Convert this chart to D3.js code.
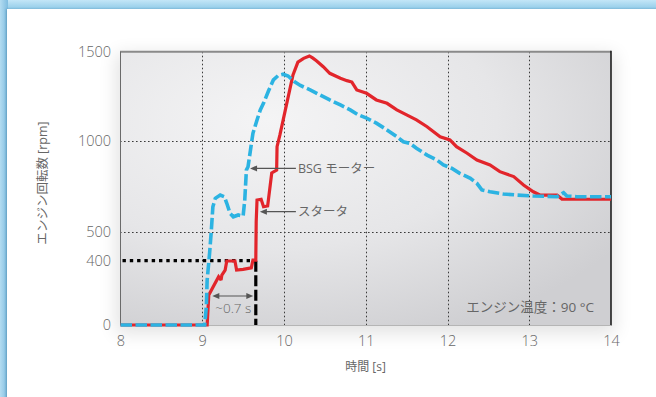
<!DOCTYPE html>
<html>
<head>
<meta charset="utf-8">
<script src="https://cdn.jsdelivr.net/npm/d3@7"></script>
<style>
  html, body { margin: 0; padding: 0; background: #ffffff; }
  svg { display: block; }
</style>
</head>
<body>
<svg id="chart" width="656" height="397"></svg>
<script>
// Engine speed during start-up: conventional starter vs. BSG motor
const timeTicks = [8, 9, 10, 11, 12, 13, 14];
const rpmTicks = [0, 400, 500, 1000, 1500];
const rpmGrid = [500, 1000];

// Starter trace (time s, engine speed rpm)
const starterTime = [8.00, 9.06, 9.08, 9.20, 9.23, 9.24, 9.28, 9.30, 9.40, 9.42, 9.50, 9.60, 9.62, 9.655,
  9.66, 9.67, 9.72, 9.75, 9.80, 9.85, 9.91, 9.915, 9.95, 9.99, 10.03, 10.07, 10.11, 10.17, 10.24, 10.31,
  10.35, 10.40, 10.48, 10.56, 10.69, 10.77, 10.83, 10.89, 11.01, 11.13, 11.26, 11.38, 11.50, 11.62, 11.75,
  11.91, 12.03, 12.11, 12.24, 12.36, 12.52, 12.64, 12.81, 12.93, 13.05, 13.13, 13.34, 13.40, 13.50, 14.00];
const starterRpm = [0, 0, 187, 300, 280, 311, 342, 398, 398, 342, 346, 356, 402, 402,
  558, 677, 681, 640, 644, 825, 841, 969, 1034, 1118, 1202, 1286, 1370, 1442, 1463, 1476,
  1465, 1448, 1416, 1379, 1351, 1338, 1330, 1286, 1267, 1230, 1211, 1174, 1146, 1118, 1080,
  1024, 1006, 969, 933, 896, 869, 832, 805, 759, 722, 704, 704, 682, 681, 681];

// BSG motor trace (time s, engine speed rpm)
const bsgTime = [8.00, 9.03, 9.05, 9.06, 9.09, 9.11, 9.13, 9.16, 9.22, 9.27, 9.30, 9.34, 9.38, 9.44, 9.50,
  9.52, 9.54, 9.56, 9.59, 9.62, 9.67, 9.71, 9.75, 9.81, 9.87, 9.93, 9.99, 10.05, 10.13, 10.20, 10.32,
  10.44, 10.56, 10.69, 10.81, 10.91, 11.01, 11.13, 11.26, 11.38, 11.46, 11.54, 11.62, 11.75, 11.87, 11.95,
  12.05, 12.15, 12.28, 12.36, 12.42, 12.52, 12.68, 12.85, 13.05, 13.34, 13.42, 13.46, 13.58, 14.00];
const bsgRpm = [0, 0, 114, 280, 427, 503, 640, 686, 704, 695, 659, 604, 585, 595, 589,
  677, 841, 859, 951, 1043, 1118, 1174, 1212, 1280, 1342, 1367, 1374, 1364, 1332, 1311, 1286,
  1258, 1230, 1202, 1174, 1146, 1128, 1100, 1062, 1024, 996, 987, 960, 923, 896, 869,
  851, 823, 796, 768, 732, 722, 710, 704, 699, 695, 717, 699, 695, 695];

// Crank reference: 400 rpm reached at ~9.655 s; starter delay marker
const refRpm = 400;
const refTime = 9.655;
const delayStart = 9.08;
const delayLabel = "~0.7 s";

// Callouts: label, arrow tip (time, rpm), label start time
const callouts = [
  { label: "BSG モーター", t: 9.585, rpm: 850, textT: 10.17 },
  { label: "スタータ", t: 9.705, rpm: 613, textT: 10.17 }
];
const noteText = "エンジン温度：90 °C";
const xTitle = "時間 [s]";
const yTitle = "エンジン回転数 [rpm]";

const W = 656, H = 397;
const plot = { left: 120, right: 611, top: 51.7, bottom: 325.5 };
const FONT = "'Open Sans', 'Noto Sans CJK JP', sans-serif";
const TXT = "#666666";

const svg = d3.select("#chart");
const defs = svg.append("defs");

// frame gradients
const gTop = defs.append("linearGradient").attr("id", "frameTop").attr("x1", 0).attr("y1", 0).attr("x2", 0).attr("y2", 1);
gTop.append("stop").attr("offset", "0%").attr("stop-color", "#c3e6f7");
gTop.append("stop").attr("offset", "100%").attr("stop-color", "#8dc9e7");
const gLeft = defs.append("linearGradient").attr("id", "frameLeft").attr("x1", 0).attr("y1", 0).attr("x2", 1).attr("y2", 0);
gLeft.append("stop").attr("offset", "0%").attr("stop-color", "#b3dcf1");
gLeft.append("stop").attr("offset", "100%").attr("stop-color", "#7fbde0");

const cardShadow = defs.append("filter").attr("id", "cardShadow")
  .attr("x", "-5%").attr("y", "-5%").attr("width", "110%").attr("height", "110%");
cardShadow.append("feDropShadow").attr("dx", -1).attr("dy", 0).attr("stdDeviation", 1.2)
  .attr("flood-color", "#2f6f95").attr("flood-opacity", 0.45);

const plotGlow = defs.append("filter").attr("id", "plotGlow")
  .attr("x", "-20%").attr("y", "-20%").attr("width", "140%").attr("height", "140%");
plotGlow.append("feGaussianBlur").attr("stdDeviation", 9);

const plotBg = defs.append("radialGradient").attr("id", "plotBg")
  .attr("cx", "30%").attr("cy", "25%").attr("r", "85%");
plotBg.append("stop").attr("offset", "0%").attr("stop-color", "#f4f4f5");
plotBg.append("stop").attr("offset", "55%").attr("stop-color", "#e6e6e8");
plotBg.append("stop").attr("offset", "100%").attr("stop-color", "#cfcfd2");

// frame and card
svg.append("rect").attr("width", W).attr("height", 10).attr("fill", "url(#frameTop)");
svg.append("rect").attr("width", 8).attr("height", H).attr("fill", "url(#frameLeft)");
svg.append("rect").attr("x", 7).attr("y", 9).attr("width", W).attr("height", H)
  .attr("fill", "#ffffff").attr("filter", "url(#cardShadow)");

// scales
const x = d3.scaleLinear().domain([8, 14]).range([plot.left + 0.5, plot.right]);
const y = d3.scaleLinear().domain(rpmTicks).range([325, 260.7, 232.3, 141, 51.7]);

// plot area
svg.append("rect").attr("x", plot.left - 4).attr("y", plot.top + 2).attr("width", plot.right - plot.left + 8)
  .attr("height", plot.bottom - plot.top + 6).attr("fill", "#000").attr("opacity", 0.11).attr("filter", "url(#plotGlow)");
svg.append("rect").attr("x", plot.left).attr("y", plot.top).attr("width", plot.right - plot.left)
  .attr("height", plot.bottom - plot.top).attr("fill", "url(#plotBg)");

// grid
const grid = svg.append("g").attr("stroke", "#3a3a3a").attr("stroke-width", 1).attr("stroke-dasharray", "1.6,2.4");
grid.selectAll("line.gx").data(timeTicks.slice(1, -1)).join("line")
  .attr("x1", d => Math.round(x(d)) + 0.5).attr("x2", d => Math.round(x(d)) + 0.5)
  .attr("y1", plot.top).attr("y2", plot.bottom);
grid.selectAll("line.gy").data(rpmGrid).join("line")
  .attr("x1", plot.left).attr("x2", plot.right)
  .attr("y1", d => Math.round(y(d)) + 0.5).attr("y2", d => Math.round(y(d)) + 0.5);

// borders
svg.append("line").attr("x1", plot.left).attr("x2", plot.right).attr("y1", plot.top).attr("y2", plot.top)
  .attr("stroke", "#8a8a8a").attr("stroke-width", 2);
svg.append("line").attr("x1", plot.left + 0.5).attr("x2", plot.left + 0.5).attr("y1", plot.top).attr("y2", plot.bottom)
  .attr("stroke", "#6a6a6a").attr("stroke-width", 1);
svg.append("line").attr("x1", plot.right).attr("x2", plot.right).attr("y1", plot.top - 1).attr("y2", plot.bottom)
  .attr("stroke", "#111").attr("stroke-width", 1.5);
svg.append("line").attr("x1", plot.left).attr("x2", plot.right).attr("y1", plot.bottom).attr("y2", plot.bottom)
  .attr("stroke", "#b5b5b5").attr("stroke-width", 1);

// axes labels
const xAxis = d3.axisBottom(x).tickValues(timeTicks).tickSize(0).tickPadding(0).tickFormat(d3.format("d"));
const gx = svg.append("g").attr("transform", `translate(0,${plot.bottom + 10})`).call(xAxis);
gx.select(".domain").remove();
gx.selectAll("text").attr("font-family", FONT).attr("font-size", 14.5).attr("font-weight", 300)
  .attr("fill", TXT).attr("dy", "0.71em");

const yAxis = d3.axisLeft(y).tickValues(rpmTicks).tickSize(0).tickPadding(0).tickFormat(d3.format("d"));
const gy = svg.append("g").attr("transform", `translate(${plot.left - 9},0)`).call(yAxis);
gy.select(".domain").remove();
gy.selectAll("text").attr("font-family", FONT).attr("font-size", 14.5).attr("font-weight", 300).attr("fill", TXT);

svg.append("text").attr("x", (plot.left + plot.right) / 2).attr("y", 371)
  .attr("text-anchor", "middle").attr("font-family", FONT).attr("font-size", 12)
  .attr("fill", TXT).text(xTitle);
svg.append("text").attr("transform", `translate(47,183) rotate(-90)`)
  .attr("text-anchor", "middle").attr("font-family", FONT).attr("font-size", 12.5)
  .attr("fill", TXT).text(yTitle);

// reference markers at 400 rpm
svg.append("line").attr("x1", x(8) + 2).attr("x2", x(refTime)).attr("y1", y(refRpm)).attr("y2", y(refRpm))
  .attr("stroke", "#000").attr("stroke-width", 3.2).attr("stroke-dasharray", "3.4,3.9");
svg.append("line").attr("x1", x(refTime)).attr("x2", x(refTime)).attr("y1", y(refRpm)).attr("y2", y(0))
  .attr("stroke", "#000").attr("stroke-width", 3.2).attr("stroke-dasharray", "11,3.5");

// series
const toPts = (ts, vs) => ts.map((t, i) => [t, vs[i]]);
const line = d3.line().x(d => x(d[0])).y(d => y(d[1]));

svg.append("path").datum(toPts(starterTime, starterRpm)).attr("d", line)
  .attr("fill", "none").attr("stroke", "#e2252b").attr("stroke-width", 3.2)
  .attr("stroke-linejoin", "miter").attr("stroke-miterlimit", 2);
svg.append("path").datum(toPts(bsgTime, bsgRpm)).attr("d", line)
  .attr("fill", "none").attr("stroke", "#2cb3e2").attr("stroke-width", 3.6)
  .attr("stroke-dasharray", "11.5,3.5");

// arrowheads
const arrowHead = (g, tipX, tipY, dir) => {
  g.append("path")
    .attr("d", `M${tipX},${tipY} L${tipX + dir * 7},${tipY - 3} L${tipX + dir * 7},${tipY + 3} Z`)
    .attr("fill", "#555");
};

// callouts
const ann = svg.append("g");
callouts.forEach(c => {
  const tx = x(c.t), ty = y(c.rpm), lx = x(c.textT);
  ann.append("line").attr("x1", tx + 3).attr("x2", lx - 2).attr("y1", ty).attr("y2", ty)
    .attr("stroke", "#555").attr("stroke-width", 1.2);
  arrowHead(ann, tx, ty, 1);
  ann.append("text").attr("x", lx).attr("y", ty).attr("dy", "0.36em")
    .attr("font-family", FONT).attr("font-size", 12.5).attr("fill", TXT).text(c.label);
});

// delay measurement
const dx1 = x(delayStart) + 3.5, dx2 = x(refTime) - 2.5, dy = 296;
ann.append("line").attr("x1", dx1 + 3).attr("x2", dx2 - 3).attr("y1", dy).attr("y2", dy)
  .attr("stroke", "#555").attr("stroke-width", 1.2);
arrowHead(ann, dx1, dy, 1);
arrowHead(ann, dx2, dy, -1);
ann.append("text").attr("x", (dx1 + dx2) / 2 + 0.5).attr("y", 313)
  .attr("text-anchor", "middle").attr("font-family", FONT).attr("font-size", 13.5).attr("font-weight", 300)
  .attr("fill", TXT).text(delayLabel);

// temperature note
svg.append("text").attr("x", 594).attr("y", 312).attr("text-anchor", "end")
  .attr("font-family", FONT).attr("font-size", 13.5).attr("fill", TXT).text(noteText);
</script>
</body>
</html>
